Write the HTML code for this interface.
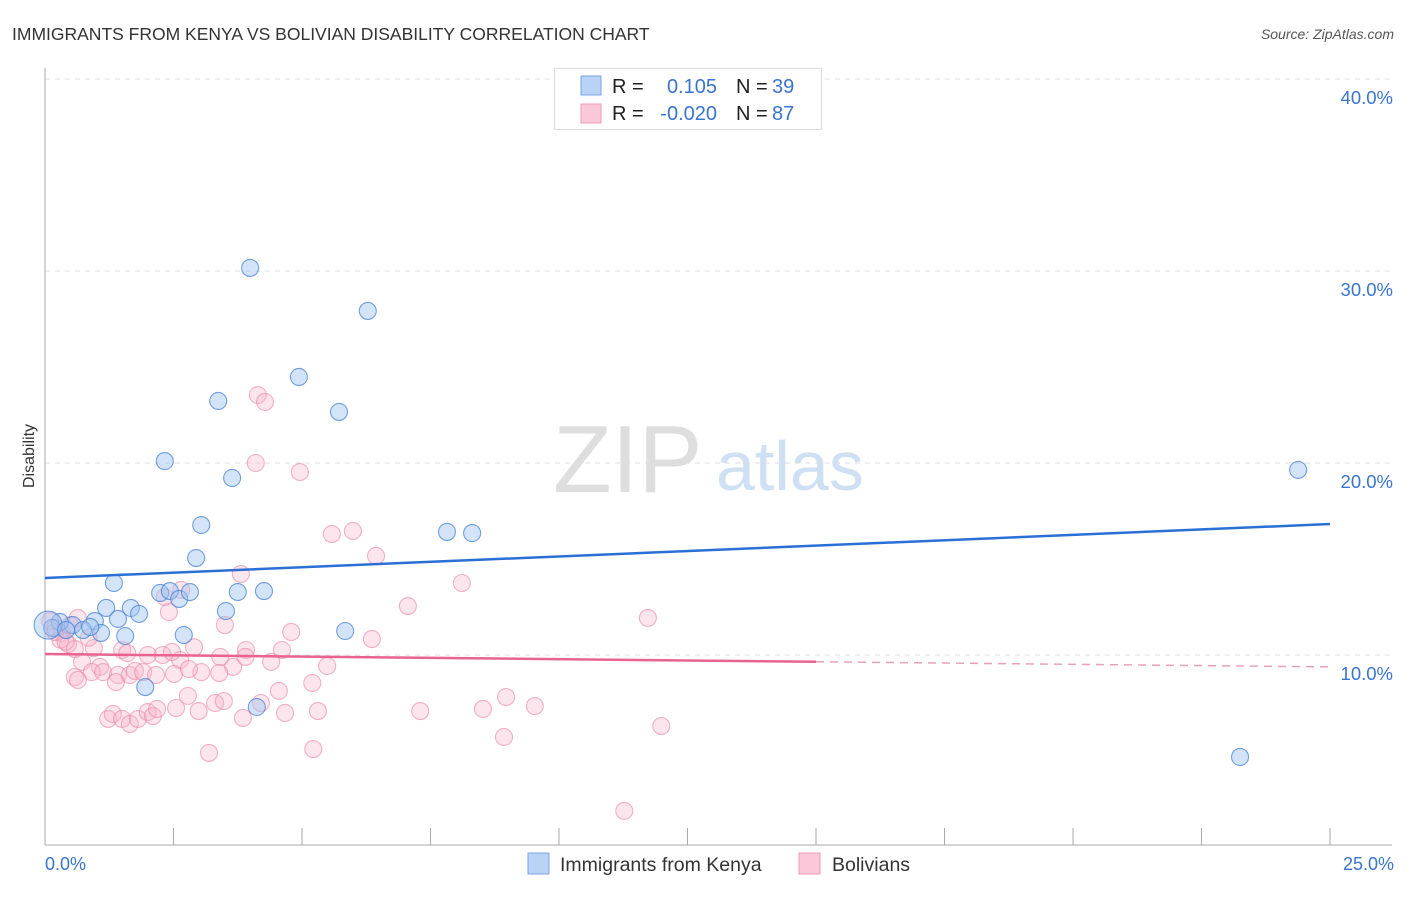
<!DOCTYPE html>
<html><head><meta charset="utf-8"><style>
body{margin:0;background:#fff;font-family:"Liberation Sans",sans-serif;}
svg text{font-family:"Liberation Sans",sans-serif;}
</style></head><body>
<svg id="chart" width="1406" height="892" xmlns="http://www.w3.org/2000/svg">
<text x="12" y="40" font-size="17.5" fill="#333">IMMIGRANTS FROM KENYA VS BOLIVIAN DISABILITY CORRELATION CHART</text>
<text x="1394" y="39" font-size="14" fill="#555" font-style="italic" text-anchor="end">Source: ZipAtlas.com</text>
<text x="553" y="492" font-size="96" font-family="Liberation Serif" fill="#dedede">ZIP</text>
<text x="716" y="490" font-size="70" fill="#cfe0f4">atlas</text>
<g id="grid"></g>
<g id="axes"></g>
<g id="pinkpts"></g>
<g id="bluepts"></g>
<g id="trends"></g>
<text transform="translate(34,456) rotate(-90)" font-size="16" fill="#333" text-anchor="middle">Disability</text>
<text x="45" y="870" font-size="18" fill="#3a74d0">0.0%</text>
<text x="1394" y="870" font-size="18" fill="#3a74d0" text-anchor="end">25.0%</text>
<g>
<rect x="554.5" y="68.5" width="267" height="61" fill="#fff" stroke="#ddd"/>
<rect x="581" y="76" width="20" height="19" fill="#b8d3f5" stroke="#7aa6e0"/>
<rect x="581" y="104" width="20" height="19" fill="#fac8d8" stroke="#f09ab6"/>
<text x="612" y="93" font-size="20" fill="#222">R =</text>
<text x="717" y="93" font-size="20" fill="#3a74d0" text-anchor="end">0.105</text>
<text x="736" y="93" font-size="20" fill="#222">N =</text>
<text x="772" y="93" font-size="20" fill="#3a74d0">39</text>
<text x="612" y="120" font-size="20" fill="#222">R =</text>
<text x="717" y="120" font-size="20" fill="#3a74d0" text-anchor="end">-0.020</text>
<text x="736" y="120" font-size="20" fill="#222">N =</text>
<text x="772" y="120" font-size="20" fill="#3a74d0">87</text>
</g>
<g>
<rect x="528" y="853" width="21" height="21" fill="#b8d3f5" stroke="#7aa6e0"/>
<text x="560" y="871" font-size="19.5" fill="#333">Immigrants from Kenya</text>
<rect x="799" y="853" width="21" height="21" fill="#fac8d8" stroke="#f09ab6"/>
<text x="832" y="871" font-size="19.5" fill="#333">Bolivians</text>
</g>
</svg>
<script>
const yTicks=[10,20,30,40];
const yTickLabels=["10.0%","20.0%","30.0%","40.0%"];
const xTicks=[0,2.5,5,7.5,10,12.5,15,17.5,20,22.5,25];
const blueX=[3.99,6.28,4.94,3.37,5.72,2.33,3.64,24.38,3.04,7.82,8.31,2.94,1.34,2.24,2.43,2.61,2.82,3.75,4.26,1.19,1.67,1.83,3.52,1.42,0.97,0.54,0.29,0.14,0.74,1.09,1.56,2.70,5.84,1.95,4.12,23.25,0.06,0.41,0.88];
const blueY=[30.16,27.92,24.48,23.23,22.66,20.10,19.22,19.64,16.77,16.41,16.35,15.05,13.75,13.23,13.33,12.92,13.28,13.28,13.33,12.45,12.45,12.14,12.29,11.88,11.77,11.56,11.72,11.41,11.30,11.15,10.99,11.04,11.25,8.33,7.29,4.69,11.56,11.30,11.46];
const pinkX=[4.14,4.28,4.10,4.96,5.58,5.99,6.44,3.81,8.11,2.65,2.33,7.06,11.73,2.41,3.50,4.79,6.36,0.10,0.20,0.33,0.49,0.64,0.45,0.58,0.95,1.50,2.00,2.29,2.47,2.63,3.41,3.91,4.61,4.40,3.66,5.49,0.72,1.07,0.91,1.13,0.58,0.64,1.42,1.38,1.65,1.75,1.91,2.16,2.51,3.04,2.80,3.39,2.78,2.55,2.99,3.31,3.48,3.85,4.20,4.55,4.67,5.20,5.31,5.22,3.19,1.23,1.32,1.50,1.65,1.81,2.00,2.10,2.18,7.30,8.52,8.97,8.93,9.53,11.99,11.27,0.30,0.85,1.60,2.90,3.90,0.20,0.40];
const pinkY=[23.54,23.18,20.00,19.53,16.30,16.46,15.16,14.22,13.75,13.39,13.02,12.55,11.93,12.24,11.56,11.20,10.83,11.77,11.41,11.15,11.56,11.93,10.57,10.31,10.36,10.26,10.00,10.00,10.16,9.74,9.90,10.26,10.26,9.64,9.38,9.43,9.64,9.38,9.11,9.11,8.85,8.70,8.96,8.59,8.96,9.17,9.11,8.96,9.01,9.11,9.27,9.06,7.87,7.24,7.08,7.50,7.60,6.72,7.50,8.13,6.98,8.54,7.08,5.10,4.90,6.67,6.93,6.67,6.41,6.67,7.03,6.82,7.19,7.08,7.19,7.81,5.73,7.34,6.30,1.88,10.80,10.90,10.10,10.40,9.90,11.20,10.70];
const blueTrend=[14.01,16.82];
const pinkTrend=[10.05,9.38];
const pinkSolidEnd=15;
const X0=45,X1=1330,Y10=655,PPU=19.2;
const xs=v=>X0+(v/25)*(X1-X0);
const ys=v=>Y10-(v-10)*PPU;
const NS="http://www.w3.org/2000/svg";
function mk(tag,attrs,parent){const e=document.createElementNS(NS,tag);for(const k in attrs)e.setAttribute(k,attrs[k]);document.getElementById(parent).appendChild(e);return e;}
yTicks.forEach((t,i)=>{
 const l=mk("line",{x1:45,x2:1392,y1:ys(t),y2:ys(t),stroke:"#ddd","stroke-dasharray":"5,5"},"grid");
 
 
 const tx=mk("text",{x:1393,y:ys(t)+25,"font-size":18.5,fill:"#3a74d0","text-anchor":"end"},"grid");
 tx.textContent=yTickLabels[i];
 
 
});
const ax=mk("line",{x1:45,x2:1392,y1:845,y2:845,stroke:"#aaa"},"axes");


const ay=mk("line",{x1:45,x2:45,y1:68,y2:845,stroke:"#aaa"},"axes");


xTicks.forEach(t=>{
 const l=mk("line",{x1:xs(t),x2:xs(t),y1:828,y2:845,stroke:"#aaa"},"axes");
 
 
});
pinkX.forEach((x,i)=>{
 const c=mk("circle",{cx:xs(x),cy:ys(pinkY[i]),r:8.5,fill:"rgba(246,180,203,0.35)",stroke:"rgba(234,130,165,0.6)","stroke-width":1.1},"pinkpts");
 
 
});
blueX.forEach((x,i)=>{
 const c=mk("circle",{cx:xs(x),cy:ys(blueY[i]),r:i==36?14:8.5,fill:"rgba(160,196,240,0.45)",stroke:"rgba(70,130,215,0.75)","stroke-width":1.1},"bluepts");
 
 
});
const bt=mk("line",{x1:xs(0),y1:ys(blueTrend[0]),x2:xs(25),y2:ys(blueTrend[1]),stroke:"#2a6fd6","stroke-width":2.5},"trends");


const pm=pinkTrend[0]+(pinkTrend[1]-pinkTrend[0])*pinkSolidEnd/25;
const pt=mk("line",{x1:xs(0),y1:ys(pinkTrend[0]),x2:xs(pinkSolidEnd),y2:ys(pm),stroke:"#e8638e","stroke-width":2.5},"trends");


const pd=mk("line",{x1:xs(pinkSolidEnd),y1:ys(pm),x2:xs(25),y2:ys(pinkTrend[1]),stroke:"#e8a0b8","stroke-width":1.5,"stroke-dasharray":"8,6"},"trends");


</script>
</body></html>
